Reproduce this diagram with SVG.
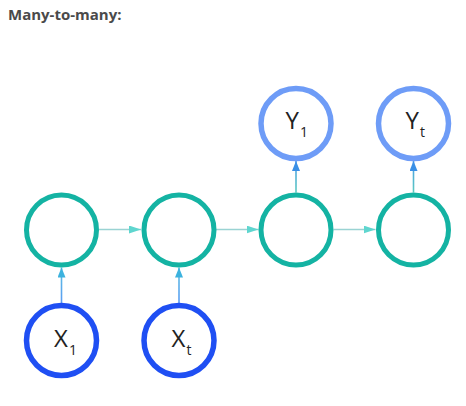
<svg xmlns="http://www.w3.org/2000/svg" width="466" height="406" viewBox="0 0 466 406">
  <style>
    .title { font-family: "Open Sans", "Liberation Sans", sans-serif; font-weight: 700; font-size: 15px; fill: #4a4a4a; }
    .hidden { fill: #ffffff; stroke: #14b3a3; stroke-width: 5; }
    .input { fill: #ffffff; stroke: #1f4ff3; stroke-width: 5.5; }
    .output { fill: #ffffff; stroke: #6e9cf7; stroke-width: 5.5; }
    .lbl { font-family: "Open Sans", "Liberation Sans", sans-serif; font-size: 24px; fill: #222222; }
    .sub { font-size: 14px; }
    .link { fill: none; stroke-width: 1.6; }
  </style>
  <defs>
    <marker id="headH" markerWidth="12" markerHeight="8" refX="12" refY="4" orient="auto" markerUnits="userSpaceOnUse">
      <path d="M0,0 L12,4 L0,8 Z" fill="#5fd6cf"/>
    </marker>
    <marker id="headIn" markerWidth="10" markerHeight="8" refX="10" refY="4" orient="auto" markerUnits="userSpaceOnUse">
      <path d="M0,0 L10,4 L0,8 Z" fill="#3cb2de"/>
    </marker>
    <marker id="headOut" markerWidth="10" markerHeight="8" refX="10" refY="4" orient="auto" markerUnits="userSpaceOnUse">
      <path d="M0,0 L10,4 L0,8 Z" fill="#3a8fe6"/>
    </marker>
    <linearGradient id="gradIn" gradientUnits="userSpaceOnUse" x1="0" y1="303" x2="0" y2="268">
      <stop offset="0" stop-color="#5a9cf4"/>
      <stop offset="1" stop-color="#5cc0e0"/>
    </linearGradient>
    <linearGradient id="gradOut" gradientUnits="userSpaceOnUse" x1="0" y1="193" x2="0" y2="161">
      <stop offset="0" stop-color="#5ccbbf"/>
      <stop offset="1" stop-color="#4a9ae8"/>
    </linearGradient>
  </defs>

  <text class="title" x="8" y="20">Many-to-many:</text>

  <!-- connectors -->
  <g id="connectors">
    <line class="link" x1="99" y1="229.5" x2="141" y2="229.5" stroke="#9ad3d3" marker-end="url(#headH)"/>
    <line class="link" x1="216" y1="229.5" x2="258.5" y2="229.5" stroke="#9ad3d3" marker-end="url(#headH)"/>
    <line class="link" x1="333.5" y1="229.5" x2="375.5" y2="229.5" stroke="#9ad3d3" marker-end="url(#headH)"/>
    <line class="link" x1="61.5" y1="303" x2="61.5" y2="267.5" stroke="url(#gradIn)" marker-end="url(#headIn)"/>
    <line class="link" x1="179" y1="303" x2="179" y2="267.5" stroke="url(#gradIn)" marker-end="url(#headIn)"/>
    <line class="link" x1="296" y1="192.5" x2="296" y2="161" stroke="url(#gradOut)" marker-end="url(#headOut)"/>
    <line class="link" x1="413.5" y1="192.5" x2="413.5" y2="161" stroke="url(#gradOut)" marker-end="url(#headOut)"/>
  </g>

  <!-- hidden states -->
  <g id="h1"><circle class="hidden" cx="61.5" cy="230" r="35"/></g>
  <g id="h2"><circle class="hidden" cx="179" cy="230" r="35"/></g>
  <g id="h3"><circle class="hidden" cx="296" cy="230" r="35"/></g>
  <g id="h4"><circle class="hidden" cx="413.5" cy="230" r="35"/></g>

  <!-- inputs -->
  <g id="x1">
    <circle class="input" cx="61.5" cy="340.5" r="35"/>
    <text class="lbl" x="54" y="347">X<tspan class="sub" dx="1" dy="8">1</tspan></text>
  </g>
  <g id="xt">
    <circle class="input" cx="179" cy="340.5" r="35"/>
    <text class="lbl" x="171.5" y="347">X<tspan class="sub" dx="1" dy="8">t</tspan></text>
  </g>

  <!-- outputs -->
  <g id="y1">
    <circle class="output" cx="296" cy="123.5" r="35"/>
    <text class="lbl" x="285.5" y="129">Y<tspan class="sub" dx="1" dy="8">1</tspan></text>
  </g>
  <g id="yt">
    <circle class="output" cx="413.5" cy="123.5" r="35"/>
    <text class="lbl" x="405.5" y="129">Y<tspan class="sub" dx="1" dy="8">t</tspan></text>
  </g>
</svg>
